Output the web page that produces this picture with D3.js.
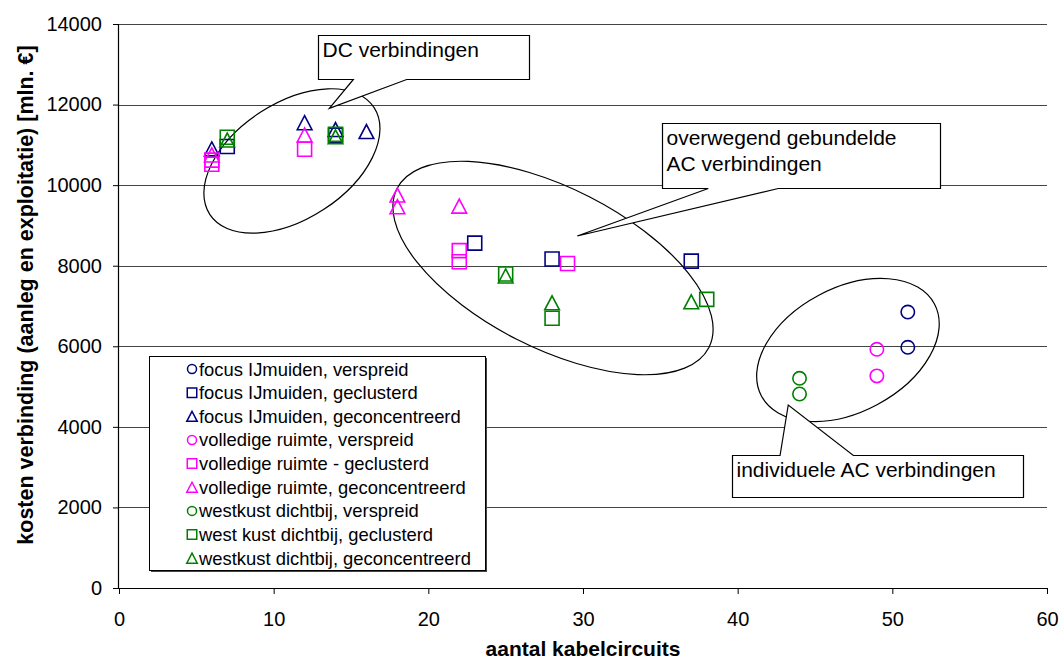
<!DOCTYPE html>
<html><head><meta charset="utf-8">
<script src="https://cdn.jsdelivr.net/npm/d3@7"></script>
<style>body{margin:0;background:#fff}svg{display:block}text{font-family:Arial,"Liberation Sans",sans-serif}</style>
</head><body><svg id="c" width="1061" height="664"></svg>
<script>
// ---- tick labels ----
const xTicks = [0, 10, 20, 30, 40, 50, 60];
const yTicks = [0, 2000, 4000, 6000, 8000, 10000, 12000, 14000];

// ---- series names ----
const seriesNames = [
  "focus IJmuiden, verspreid",
  "focus IJmuiden, geclusterd",
  "focus IJmuiden, geconcentreerd",
  "volledige ruimte, verspreid",
  "volledige ruimte - geclusterd",
  "volledige ruimte, geconcentreerd",
  "westkust dichtbij, verspreid",
  "west kust dichtbij, geclusterd",
  "westkust dichtbij, geconcentreerd"
];

// ---- series values (x = aantal kabelcircuits, y = kosten) ----
const focusVerspreidX = [51, 51];
const focusVerspreidY = [6850, 5975];
const focusGeclusterdX = [7, 14, 23, 28, 37];
const focusGeclusterdY = [10960, 11240, 8560, 8165, 8115];
const focusGeconcX = [6, 12, 14, 16];
const focusGeconcY = [10900, 11550, 11380, 11330];
const volledigVerspreidX = [49, 49];
const volledigVerspreidY = [5925, 5265];
const volledigGeclusterdX = [6, 6, 12, 22, 22, 29];
const volledigGeclusterdY = [10620, 10520, 10890, 8375, 8100, 8055];
const volledigGeconcX = [6, 12, 18, 18, 22];
const volledigGeconcY = [10750, 11245, 9755, 9465, 9480];
const westVerspreidX = [44, 44];
const westVerspreidY = [5205, 4815];
const westGeclusterdX = [7, 14, 25, 28, 38];
const westGeclusterdY = [11190, 11260, 7795, 6695, 7165];
const westGeconcX = [7, 14, 25, 28, 37];
const westGeconcY = [11120, 11200, 7745, 7080, 7105];

const seriesX = [focusVerspreidX, focusGeclusterdX, focusGeconcX, volledigVerspreidX, volledigGeclusterdX, volledigGeconcX, westVerspreidX, westGeclusterdX, westGeconcX];
const seriesY = [focusVerspreidY, focusGeclusterdY, focusGeconcY, volledigVerspreidY, volledigGeclusterdY, volledigGeconcY, westVerspreidY, westGeclusterdY, westGeconcY];

// ---- annotation texts ----
const calloutTexts = [["DC verbindingen"], ["overwegend gebundelde", "AC verbindingen"], ["individuele AC verbindingen"]];

// ---- styles ----
const seriesColors = ["#000080","#000080","#000080","#FF00FF","#FF00FF","#FF00FF","#008000","#008000","#008000"];
const seriesShapes = ["circle","square","triangle","circle","square","triangle","circle","square","triangle"];

const W = 1061, H = 664;
const margin = {left: 119, right: 14, top: 24, bottom: 76};
const svg = d3.select("#c");
const x = d3.scaleLinear().domain([0, 60]).range([margin.left, W - margin.right]);
const y = d3.scaleLinear().domain([0, 14000]).range([H - margin.bottom, margin.top]);

function shapePath(shape, s) {
  const p = d3.path();
  if (shape === "circle") { p.arc(0, 0, s/2, 0, 2*Math.PI); }
  else if (shape === "square") { p.rect(-s/2, -s/2, s, s); }
  else { const w = s*1.05, h = s; p.moveTo(0, -h/2); p.lineTo(w/2, h/2); p.lineTo(-w/2, h/2); p.closePath(); }
  return p.toString();
}
const markerSize = {circle: 13.4, square: 14, triangle: 14};

// gridlines
svg.append("g").selectAll("line").data(yTicks.filter(d => d > 0)).join("line")
  .attr("x1", x(0)).attr("x2", x(60)).attr("y1", d => Math.round(y(d)) + 0.5).attr("y2", d => Math.round(y(d)) + 0.5)
  .attr("stroke", "#444").attr("stroke-width", 1);

// axes
const yAxis = svg.append("g").attr("transform", `translate(${x(0)},0)`)
  .call(d3.axisLeft(y).tickValues(yTicks).tickSize(6).tickPadding(11).tickFormat(d3.format("d")));
const xAxis = svg.append("g").attr("transform", `translate(0,${y(0)})`)
  .call(d3.axisBottom(x).tickValues(xTicks).tickSize(6).tickPadding(18).tickFormat(d3.format("d")));
[yAxis, xAxis].forEach(a => {
  a.select(".domain").attr("stroke", "#000").attr("stroke-width", 1.2);
  a.selectAll(".tick line").attr("stroke", "#000");
  a.selectAll("text").attr("font-size", 20).attr("fill", "#000").attr("font-family", "Arial, 'Liberation Sans', sans-serif");
});
xAxis.select(".domain").attr("d", `M${x(0)},0.5H${x(60)}`);
yAxis.select(".domain").attr("d", `M-0.5,${y(0)}V${y(14000)}`);

// axis titles
svg.append("text").attr("x", (x(0) + x(60)) / 2).attr("y", 656).attr("text-anchor", "middle")
  .attr("font-size", 21).attr("font-weight", "bold").text("aantal kabelcircuits");
svg.append("text").attr("transform", `translate(33,${(y(0)+y(14000))/2 - 11}) rotate(-90)`).attr("text-anchor", "middle")
  .attr("font-size", 21.5).attr("font-weight", "bold").text("kosten verbinding (aanleg en exploitatie) [mln. €]");

// ellipses (centre in data units, radii/angle in px)
const ellipses = [
  {cx: 11.18, cy: 10600, rx: 98, ry: 58, rot: -33},
  {cx: 28.06, cy: 7943, rx: 175, ry: 80, rot: 27},
  {cx: 47.13, cy: 5908, rx: 98, ry: 62, rot: -28}
];
svg.append("g").selectAll("ellipse").data(ellipses).join("ellipse")
  .attr("transform", d => `translate(${x(d.cx)},${y(d.cy)}) rotate(${d.rot})`)
  .attr("rx", d => d.rx).attr("ry", d => d.ry)
  .attr("fill", "none").attr("stroke", "#000").attr("stroke-width", 1.2);

// points
const pts = [];
seriesX.forEach((xs, i) => xs.forEach((xv, j) => pts.push({i, x: xv, y: seriesY[i][j]})));
svg.append("g").selectAll("path").data(pts).join("path")
  .attr("transform", d => `translate(${x(d.x)},${y(d.y)})`)
  .attr("d", d => shapePath(seriesShapes[d.i], markerSize[seriesShapes[d.i]]))
  .attr("fill", "none").attr("stroke", d => seriesColors[d.i]).attr("stroke-width", 1.6);

// callouts (box corners, wedge base and tip in data units)
const callouts = [
  {x0: 12.89, x1: 26.51, y0: 13727, y1: 12627, side: "bottom", b0: 15.15, b1: 18.6, tx: 13.6, ty: 11907},
  {x0: 35.13, x1: 53.08, y0: 11535, y1: 9922, side: "bottom", b0: 38.10, b1: 42.63, tx: 29.63, ty: 8738},
  {x0: 39.61, x1: 58.47, y0: 3301, y1: 2266, side: "top", b0: 42.74, b1: 47.48, tx: 43.27, ty: 4543}
];
callouts.forEach((c, k) => {
  const L = Math.round(x(c.x0)) + 0.5, R = Math.round(x(c.x1)) + 0.5, T = Math.round(y(c.y0)) + 0.5, B = Math.round(y(c.y1)) + 0.5;
  let d;
  if (c.side === "bottom") {
    d = `M${L},${T}H${R}V${B}H${x(c.b1)}L${x(c.tx)},${y(c.ty)}L${x(c.b0)},${B}H${L}Z`;
  } else {
    d = `M${L},${T}H${x(c.b0)}L${x(c.tx)},${y(c.ty)}L${x(c.b1)},${T}H${R}V${B}H${L}Z`;
  }
  svg.append("path").attr("d", d).attr("fill", "#fff").attr("stroke", "#000").attr("stroke-width", 1.2);
  calloutTexts[k].forEach((t, li) => {
    svg.append("text").attr("x", L + 4).attr("y", T + 21 + li * 26.5).attr("font-size", 21).attr("fill", "#000").text(t);
  });
});

// legend
const lg = {left: 149, top: 356, right: 485, bottom: 570};
svg.append("rect").attr("x", lg.left + 2).attr("y", lg.top + 2).attr("width", lg.right - lg.left).attr("height", lg.bottom - lg.top).attr("fill", "#444");
svg.append("rect").attr("x", lg.left + 0.5).attr("y", lg.top + 0.5).attr("width", lg.right - lg.left).attr("height", lg.bottom - lg.top)
  .attr("fill", "#fff").attr("stroke", "#000").attr("stroke-width", 1);
const legendSize = {circle: 9, square: 9.5, triangle: 10};
const rows = svg.append("g").selectAll("g").data(seriesNames).join("g")
  .attr("transform", (d, i) => `translate(192,${369 + i * 23.65})`);
rows.append("path").attr("d", (d, i) => shapePath(seriesShapes[i], legendSize[seriesShapes[i]]))
  .attr("fill", "none").attr("stroke", (d, i) => seriesColors[i]).attr("stroke-width", 1.5);
rows.append("text").attr("x", 7).attr("y", 6.5).attr("font-size", 18.4).attr("fill", "#000").text(d => d);
</script>
</body></html>
